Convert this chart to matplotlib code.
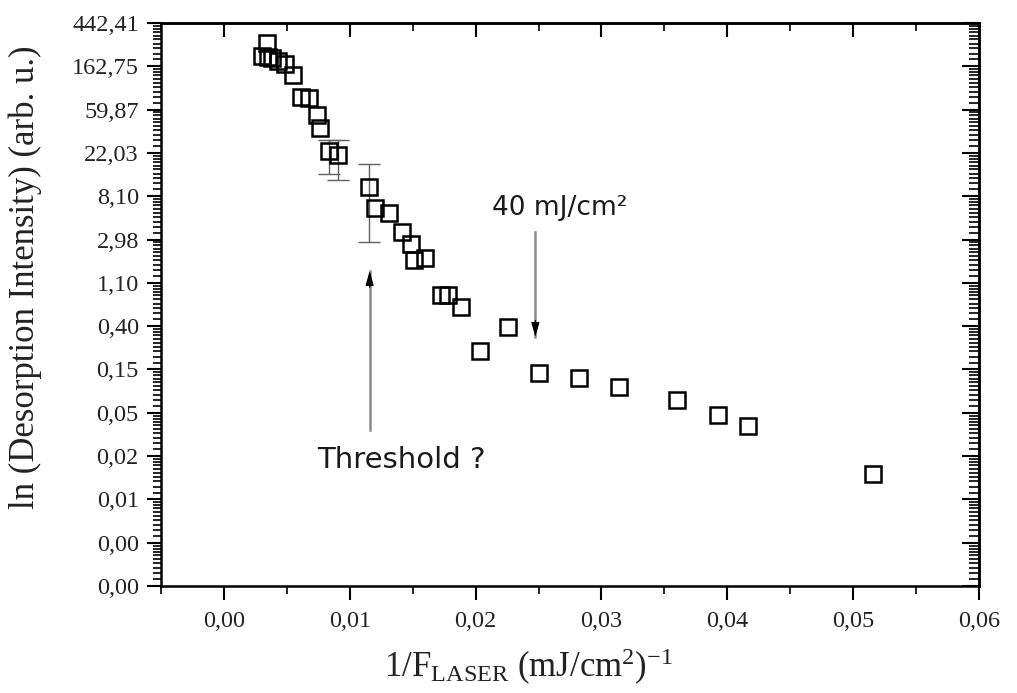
import numpy as np
import matplotlib.pyplot as plt
from matplotlib.ticker import FixedLocator, FuncFormatter, MultipleLocator

# data: x = 1/F_laser, y = ln(intensity)
inv_fluence = [0.00340, 0.00305, 0.00353, 0.00384, 0.00432, 0.00485, 0.00551,
               0.00610, 0.00676, 0.00742, 0.00764, 0.00836, 0.00910, 0.01154,
               0.01202, 0.01313, 0.01419, 0.01490, 0.01512, 0.01597, 0.01724,
               0.01777, 0.01884, 0.02037, 0.02254, 0.02507, 0.02825, 0.03143,
               0.03599, 0.03926, 0.04164, 0.05159]
ln_intensity = [5.62, 5.33, 5.30, 5.28, 5.22, 5.15, 4.89,
                4.39, 4.35, 3.97, 3.66, 3.14, 3.04, 2.31,
                1.81, 1.70, 1.27, 1.00, 0.62, 0.66, -0.19,
                -0.19, -0.47, -1.47, -0.92, -1.98, -2.11, -2.32,
                -2.61, -2.96, -3.21, -4.32]

# points that carry error bars
err_x = [0.00836, 0.00910, 0.01154]
err_y = [3.14, 3.04, 2.31]
err_lo = [0.54, 0.58, 1.28]
err_hi = [0.26, 0.35, 0.52]

# annotations (data coords)
thr_arrow = (0.01158, -3.30, 0.37)   # x, tail y, tip y
thr_text = (0.01409, -4.18)
f40_arrow = (0.02475, 1.27, -1.16)
f40_text = (0.02133, 1.66)

y_top = np.log(442.41)
y_ticks = y_top - np.arange(14)
x_ticks = np.arange(0, 0.061, 0.01)

plt.rcParams['font.family'] = 'Liberation Serif'
plt.rcParams['mathtext.fontset'] = 'custom'
plt.rcParams['mathtext.rm'] = 'Liberation Serif'
plt.rcParams['mathtext.it'] = 'Liberation Serif:italic'

fig = plt.figure(figsize=(10.17, 6.93), dpi=100)
ax = fig.add_axes([0.1583, 0.1544, 0.8043, 0.8124])

ax.plot(inv_fluence, ln_intensity, ls='none', marker='s', ms=12, mfc='none',
        mec='black', mew=1.8, zorder=3)
ax.errorbar(err_x, err_y, yerr=[err_lo, err_hi], fmt='none', ecolor='#606060',
            elinewidth=1.0, capsize=8, capthick=1.0, zorder=2)

# arrows: grey shaft, black head
for x, y0, y1 in (thr_arrow, f40_arrow):
    ax.plot([x, x], [y0, y1], color='#8a8a8a', lw=1.8, zorder=1)
    sgn = -1 if y1 > y0 else 1
    ax.annotate('', xy=(x, y1), xytext=(0, 12 * sgn), textcoords='offset points',
                arrowprops=dict(arrowstyle='-|>,head_length=0.9,head_width=0.25',
                                color='black', lw=0.8, shrinkA=0, shrinkB=0))

ax.text(thr_text[0], thr_text[1], 'Threshold ?', family='DejaVu Sans', fontsize=21,
        color='#1a1a1a', ha='center', va='baseline')
ax.text(f40_text[0], f40_text[1], '40 mJ/cm²', family='DejaVu Sans', fontsize=19,
        color='#1a1a1a', ha='left', va='baseline')

ax.set_xlim(-0.005, 0.06)
ax.set_ylim(y_top - 13, y_top)

minor_y = []
for t in y_ticks[:-1]:
    for k in range(1, 10):
        minor_y.append(t - 1 + np.log(1 + k * (np.e - 1) / 10))

ax.xaxis.set_major_locator(FixedLocator(x_ticks))
ax.xaxis.set_minor_locator(MultipleLocator(0.005))
ax.yaxis.set_major_locator(FixedLocator(y_ticks))
ax.yaxis.set_minor_locator(FixedLocator(minor_y))
ax.xaxis.set_major_formatter(FuncFormatter(lambda v, p: f"{v:.2f}".replace('.', ',')))
ax.yaxis.set_major_formatter(FuncFormatter(lambda v, p: f"{np.exp(v):.2f}".replace('.', ',')))

ax.tick_params(axis='both', which='major', direction='out', length=10, width=1.5,
               labelsize=17.5, pad=6, labelcolor='#222222')
ax.tick_params(axis='both', which='minor', direction='out', length=6, width=1.2)
ax.tick_params(axis='x', which='major', pad=8)

for s in ax.spines.values():
    s.set_linewidth(1.8)

sx = ax.secondary_xaxis('top')
sx.xaxis.set_major_locator(FixedLocator(x_ticks))
sx.xaxis.set_minor_locator(MultipleLocator(0.005))
sx.tick_params(which='major', direction='in', length=10, width=1.5, labeltop=False)
sx.tick_params(which='minor', direction='in', length=6, width=1.2)
sx.spines['top'].set_linewidth(1.8)

sy = ax.secondary_yaxis('right')
sy.yaxis.set_major_locator(FixedLocator(y_ticks))
sy.yaxis.set_minor_locator(FixedLocator(minor_y))
sy.tick_params(which='major', direction='in', length=12, width=1.5, labelright=False)
sy.tick_params(which='minor', direction='in', length=7, width=1.2)
sy.spines['right'].set_linewidth(1.8)

ax.set_ylabel('ln (Desorption Intensity) (arb. u.)', fontsize=25, color='#222222')
ax.yaxis.set_label_coords(-0.145, 0.548)
ax.set_xlabel(r'1/F$_{\mathrm{LASER}}$ (mJ/cm$^{2}$)$^{-1}$', fontsize=25, color='#222222')
ax.xaxis.set_label_coords(0.449, -0.108)

fig.savefig('out.png', dpi=100)
